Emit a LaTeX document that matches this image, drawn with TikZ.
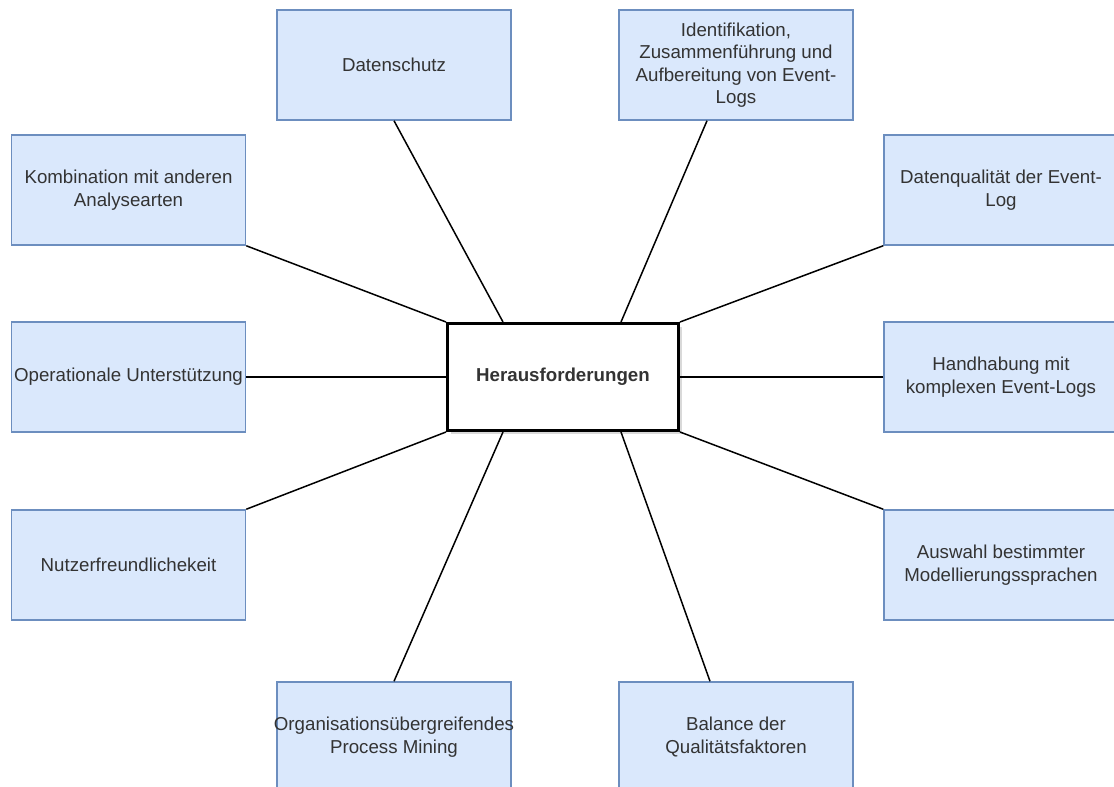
\documentclass[tikz,border=0pt]{standalone}
\usepackage{fontspec}
\setmainfont{Liberation Sans}
\usetikzlibrary{positioning,shadows}
\definecolor{boxfill}{HTML}{DAE8FC}
\definecolor{boxline}{HTML}{6C8EBF}
\definecolor{txt}{HTML}{333333}

\begin{document}
\begin{tikzpicture}[x=1pt,y=-1pt,
  font=\fontsize{18.7}{22.4}\selectfont, text=txt,
  topic/.style={draw=boxline,fill=boxfill,line width=1.5pt,minimum width=234pt,minimum height=110pt,align=center,inner sep=0pt},
  hub/.style={draw=black,fill=white,line width=3pt,minimum width=231pt,minimum height=107pt,font=\fontsize{18.7}{22.4}\selectfont\bfseries,
    drop shadow={shadow xshift=3pt,shadow yshift=-3pt,opacity=0.3,fill=gray}},
  link/.style={draw=black,line width=1.5pt}]
\useasboundingbox (0,0) rectangle (1114,787);
\clip (0,0) rectangle (1114,787);
% centre
\node[hub] (chal) at (563,377) {Herausforderungen};
% top row
\node[topic] (privacy) at (394,65) {Datenschutz};
\node[topic] (ident) at (736,65) {Identifikation,\\Zusammenführung und\\Aufbereitung von Event-\\Logs};
% left column
\node[topic] (combi) at (128.5,190) {Kombination mit anderen\\Analysearten};
\node[topic] (opsup) at (128.5,377) {Operationale Unterstützung};
\node[topic] (usab) at (128.5,565) {Nutzerfreundlichekeit};
% right column
\node[topic] (quality) at (1001,190) {Datenqualität der Event-\\Log};
\node[topic] (complex) at (1001,377) {Handhabung mit\\komplexen Event-Logs};
\node[topic] (lang) at (1001,565) {Auswahl bestimmter\\Modellierungssprachen};
% bottom row (long word runs past the box edges)
\node[topic] (crossorg) at (394,737) {\makebox[200pt]{Organisationsübergreifendes}\\Process Mining};
\node[topic] (balance) at (736,737) {Balance der\\Qualitätsfaktoren};
% spokes
\draw[link] (privacy.south) -- ([xshift=-60pt]chal.north);
\draw[link] ([xshift=-29pt]ident.south) -- ([xshift=58pt]chal.north);
\draw[link] (combi.south east) -- (chal.north west);
\draw[link] (quality.south west) -- (chal.north east);
\draw[link] (opsup.east) -- (chal.west);
\draw[link] (complex.west) -- (chal.east);
\draw[link] (usab.north east) -- (chal.south west);
\draw[link] (lang.north west) -- (chal.south east);
\draw[link] (crossorg.north) -- ([xshift=-60pt]chal.south);
\draw[link] ([xshift=-26pt]balance.north) -- ([xshift=58pt]chal.south);
\end{tikzpicture}
\end{document}
